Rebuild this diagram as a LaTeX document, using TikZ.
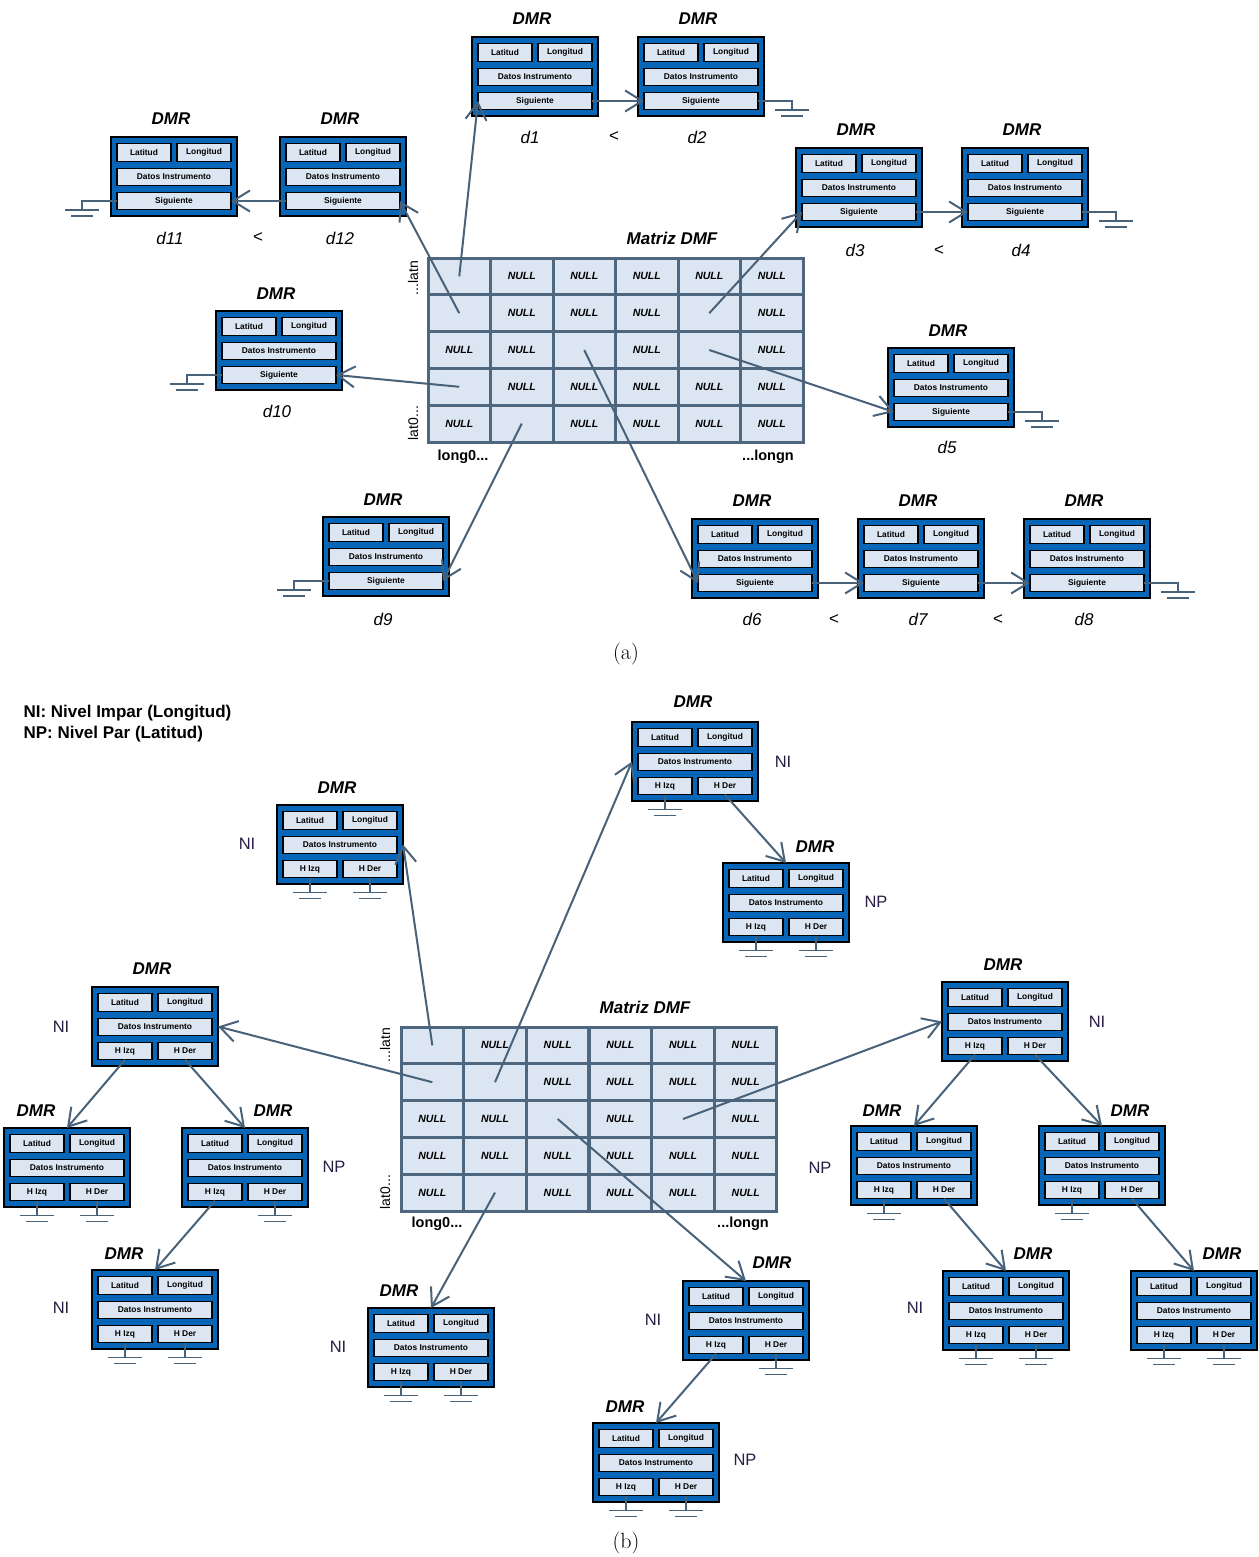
\documentclass[tikz,border=0pt]{standalone}
\usepackage{fontspec}
\setsansfont{Liberation Sans}
\usetikzlibrary{arrows.meta,calc}

\definecolor{recblue}{RGB}{8,102,184}
\definecolor{fieldfill}{RGB}{220,230,242}
\definecolor{slate}{RGB}{72,98,122}
\definecolor{gridc}{RGB}{78,102,126}
\definecolor{lvlc}{RGB}{40,30,70}

\tikzset{
  rec/.style={draw=black, line width=1.4, fill=recblue, minimum width=126, minimum height=79, inner sep=0, outer sep=0},
  fld/.style={draw=black, line width=1.1, fill=fieldfill, minimum height=17.5, inner sep=0, outer sep=0,
    font=\sffamily\bfseries\fontsize{8.4}{9}\selectfont},
  cell/.style={draw=gridc, line width=3, fill=fieldfill, minimum width=62.5, minimum height=36.8, inner sep=0, outer sep=0},
  nul/.style={font=\sffamily\bfseries\itshape\fontsize{10.5}{12}\selectfont},
  dmr/.style={font=\sffamily\bfseries\itshape\fontsize{17}{20}\selectfont},
  dlab/.style={font=\sffamily\itshape\fontsize{17}{20}\selectfont},
  ltsign/.style={font=\sffamily\fontsize{17}{20}\selectfont},
  lvl/.style={font=\sffamily\fontsize{16.5}{19}\selectfont, text=lvlc},
  axl/.style={font=\sffamily\fontsize{14}{16}\selectfont, rotate=90},
  axb/.style={font=\sffamily\bfseries\fontsize{14.5}{16}\selectfont},
  ttl/.style={font=\sffamily\bfseries\itshape\fontsize{17}{20}\selectfont},
  capt/.style={font=\rmfamily\fontsize{22}{26}\selectfont},
  leg/.style={font=\sffamily\bfseries\fontsize{17}{19}\selectfont, anchor=west},
  conn/.style={draw=slate, line width=2, -{Straight Barb[length=17pt,width=21pt]}},
  gnd/.style={draw=slate, line width=1.4},
}

% record frame: name, top-left x, top-left y
\newcommand\recframe[3]{%
  \node[rec] (#1) at (#2+63,#3+39.5) {};
  \node[fld, minimum width=54] (#1-lat) at ($(#1.north west)+(33,15.5)$) {Latitud};
  \node[fld, minimum width=54] (#1-lon) at ($(#1.north west)+(93,15.5)$) {Longitud};
  \node[fld, minimum width=114] (#1-dat) at ($(#1.north west)+(63,40)$) {Datos Instrumento};
}
% list record with a "Siguiente" pointer
\newcommand\listrec[3]{\recframe{#1}{#2}{#3}%
  \node[fld, minimum width=114] (#1-sig) at ($(#1.north west)+(63,64)$) {Siguiente};}
% tree record with left/right child pointers
\newcommand\treerec[3]{\recframe{#1}{#2}{#3}%
  \node[fld, minimum width=54] (#1-hi) at ($(#1.north west)+(33,64)$) {H Izq};
  \node[fld, minimum width=54] (#1-hd) at ($(#1.north west)+(93,64)$) {H Der};}

% ground symbol bars below a coordinate
\newcommand\gndbars[1]{%
  \draw[gnd] ($(#1)+(-17,0)$) -- ($(#1)+(17,0)$);
  \draw[gnd] ($(#1)+(-11,6)$) -- ($(#1)+(11,6)$);}
\newcommand\gndright[1]{%
  \coordinate (#1-g) at ($(#1.north east)+(28,73)$);
  \draw[gnd] (#1-sig.east) -| (#1-g);
  \gndbars{#1-g}}
\newcommand\gndleft[1]{%
  \coordinate (#1-g) at ($(#1.north west)+(-29,73)$);
  \draw[gnd] (#1-sig.west) -| (#1-g);
  \gndbars{#1-g}}
\newcommand\gnddown[1]{%
  \coordinate (#1-g) at ($(#1.south)+(0,15)$);
  \draw[gnd] (#1.south) -- (#1-g);
  \gndbars{#1-g}}

\begin{document}
\begin{tikzpicture}[x=1pt,y=-1pt]
\fill[white] (0,0) rectangle (1258,1557);
\useasboundingbox (0,0) rectangle (1258,1557);

%% ---------------- (a) list version ----------------
\foreach \r in {0,...,4}{\foreach \c in {0,...,5}{
  \node[cell] (ma-\r-\c) at ({428+(\c+0.5)*62.5},{258+(\r+0.5)*36.8}) {};}}
\foreach \r/\c in {0/1,0/2,0/3,0/4,0/5, 1/1,1/2,1/3,1/5, 2/0,2/1,2/3,2/5,
                   3/1,3/2,3/3,3/4,3/5, 4/0,4/2,4/3,4/4,4/5}{
  \node[nul] (ma-\r-\c-t) at (ma-\r-\c) {NULL};}
\node[ttl] (ma-title) at (672,238) {Matriz DMF};
\node[axl] (ma-latn) at (413,278) {...latn};
\node[axl] (ma-lat0) at (413,423) {lat0...};
\node[axb] (ma-long0) at (463,457) {long0...};
\node[axb] (ma-longn) at (768,457) {...longn};

\listrec{a1}{472}{37}
\listrec{a2}{638}{37}
\listrec{a3}{796}{148}
\listrec{a4}{962}{148}
\listrec{a5}{888}{348}
\listrec{a6}{692}{519}
\listrec{a7}{858}{519}
\listrec{a8}{1024}{519}
\listrec{a9}{323}{517}
\listrec{a10}{216}{311}
\listrec{a11}{111}{137}
\listrec{a12}{280}{137}

\gndright{a2}
\gndright{a4}
\gndright{a5}
\gndright{a8}
\gndleft{a11}
\gndleft{a10}
\gndleft{a9}

\foreach \n/\x/\y in {a1/532/19, a2/698/19, a11/171/119, a12/340/119, a3/856/130, a4/1022/130,
                      a5/948/331, a10/276/294, a9/383/500, a6/752/501, a7/918/501, a8/1084/501}{
  \node[dmr] (\n-name) at (\x,\y) {DMR};}

\node[dlab] (a1-d) at (530,137) {d1};
\node[dlab] (a2-d) at (697,137) {d2};
\node[dlab] (a11-d) at (170,238) {d11};
\node[dlab] (a12-d) at (340,238) {d12};
\node[dlab] (a3-d) at (855,250) {d3};
\node[dlab] (a4-d) at (1021,250) {d4};
\node[dlab] (a5-d) at (947,447) {d5};
\node[dlab] (a10-d) at (277,411) {d10};
\node[dlab] (a9-d) at (383,619) {d9};
\node[dlab] (a6-d) at (752,619) {d6};
\node[dlab] (a7-d) at (918,619) {d7};
\node[dlab] (a8-d) at (1084,619) {d8};

\node[ltsign] (lt12) at (614,137) {<};
\node[ltsign] (lt1112) at (258,238) {<};
\node[ltsign] (lt34) at (939,251) {<};
\node[ltsign] (lt67) at (834,620) {<};
\node[ltsign] (lt78) at (998,620) {<};

\draw[conn] (ma-0-0.center) -- (a1-sig.west);
\draw[conn] (a1-sig.east) -- (a2-sig.west);
\draw[conn] (ma-1-0.center) -- (a12-sig.east);
\draw[conn] (a12-sig.west) -- (a11-sig.east);
\draw[conn] (ma-1-4.center) -- (a3-sig.west);
\draw[conn] (a3-sig.east) -- (a4-sig.west);
\draw[conn] (ma-2-4.center) -- (a5-sig.west);
\draw[conn] (ma-3-0.center) -- (a10-sig.east);
\draw[conn] (ma-4-1.center) -- (a9-sig.east);
\draw[conn] (ma-2-2.center) -- (a6-sig.west);
\draw[conn] (a6-sig.east) -- (a7-sig.west);
\draw[conn] (a7-sig.east) -- (a8-sig.west);

\node[capt] (cap-a) at (626,654) {(a)};

%% ---------------- (b) tree version ----------------
\node[leg] (leg-ni) at (20,713) {NI: Nivel Impar (Longitud)};
\node[leg] (leg-np) at (20,734) {NP: Nivel Par (Latitud)};

\foreach \r in {0,...,4}{\foreach \c in {0,...,5}{
  \node[cell] (mb-\r-\c) at ({401+(\c+0.5)*62.67},{1027+(\r+0.5)*36.8}) {};}}
\foreach \r/\c in {0/1,0/2,0/3,0/4,0/5, 1/2,1/3,1/4,1/5, 2/0,2/1,2/3,2/5,
                   3/0,3/1,3/2,3/3,3/4,3/5, 4/0,4/2,4/3,4/4,4/5}{
  \node[nul] (mb-\r-\c-t) at (mb-\r-\c) {NULL};}
\node[ttl] (mb-title) at (645,1007) {Matriz DMF};
\node[axl] (mb-latn) at (385,1045) {...latn};
\node[axl] (mb-lat0) at (385,1192) {lat0...};
\node[axb] (mb-long0) at (437,1224) {long0...};
\node[axb] (mb-longn) at (743,1224) {...longn};

\treerec{b1}{632}{722}
\treerec{b2}{723}{863}
\treerec{b3}{277}{805}
\treerec{b4}{92}{987}
\treerec{b4l}{4}{1128}
\treerec{b4r}{182}{1128}
\treerec{b4rl}{92}{1270}
\treerec{b5}{942}{982}
\treerec{b5l}{851}{1126}
\treerec{b5r}{1039}{1126}
\treerec{b5lr}{943}{1271}
\treerec{b5rr}{1131}{1271}
\treerec{b6}{683}{1281}
\treerec{b7}{368}{1308}
\treerec{b8}{593}{1423}

\foreach \f in {b1-hi, b2-hi, b2-hd, b3-hi, b3-hd, b4l-hi, b4l-hd, b4r-hd, b4rl-hi, b4rl-hd,
                b5l-hi, b5r-hi, b5lr-hi, b5lr-hd, b5rr-hi, b5rr-hd, b6-hd, b7-hi, b7-hd, b8-hi, b8-hd}{
  \gnddown{\f}}

\foreach \n/\x/\y in {b1/693/702, b2/815/847, b3/337/788, b4/152/969, b4l/36/1111, b4r/273/1111,
                      b4rl/124/1254, b5/1003/965, b5l/882/1111, b5r/1130/1111, b5lr/1033/1254,
                      b5rr/1222/1254, b6/772/1263, b7/399/1291, b8/625/1407}{
  \node[dmr] (\n-name) at (\x,\y) {DMR};}

\node[lvl] (b1-lv) at (783,762) {NI};
\node[lvl] (b2-lv) at (876,902) {NP};
\node[lvl] (b3-lv) at (247,844) {NI};
\node[lvl] (b4-lv) at (61,1027) {NI};
\node[lvl] (b4r-lv) at (334,1167) {NP};
\node[lvl] (b4rl-lv) at (61,1308) {NI};
\node[lvl] (b5-lv) at (1097,1022) {NI};
\node[lvl] (b5l-lv) at (820,1168) {NP};
\node[lvl] (b5lr-lv) at (915,1308) {NI};
\node[lvl] (b6-lv) at (653,1320) {NI};
\node[lvl] (b7-lv) at (338,1347) {NI};
\node[lvl] (b8-lv) at (745,1460) {NP};

\draw[conn] (mb-0-0.center) -- (b3.east);
\draw[conn] (mb-1-1.center) -- (b1.west);
\draw[conn] (mb-1-0.center) -- (b4.east);
\draw[conn] (mb-2-4.center) -- (b5.west);
\draw[conn] (mb-2-2.center) -- (b6.north);
\draw[conn] (mb-4-1.center) -- (b7.north);
\draw[conn] (b1-hd.south) -- (b2.north);
\draw[conn] (b4-hi.south) -- (b4l.north);
\draw[conn] (b4-hd.south) -- (b4r.north);
\draw[conn] (b4r-hi.south) -- (b4rl.north);
\draw[conn] (b5-hi.south) -- (b5l.north);
\draw[conn] (b5-hd.south) -- (b5r.north);
\draw[conn] (b5l-hd.south) -- (b5lr.north);
\draw[conn] (b5r-hd.south) -- (b5rr.north);
\draw[conn] (b6-hi.south) -- (b8.north);

\node[capt] (cap-b) at (626,1543) {(b)};
\end{tikzpicture}
\end{document}
